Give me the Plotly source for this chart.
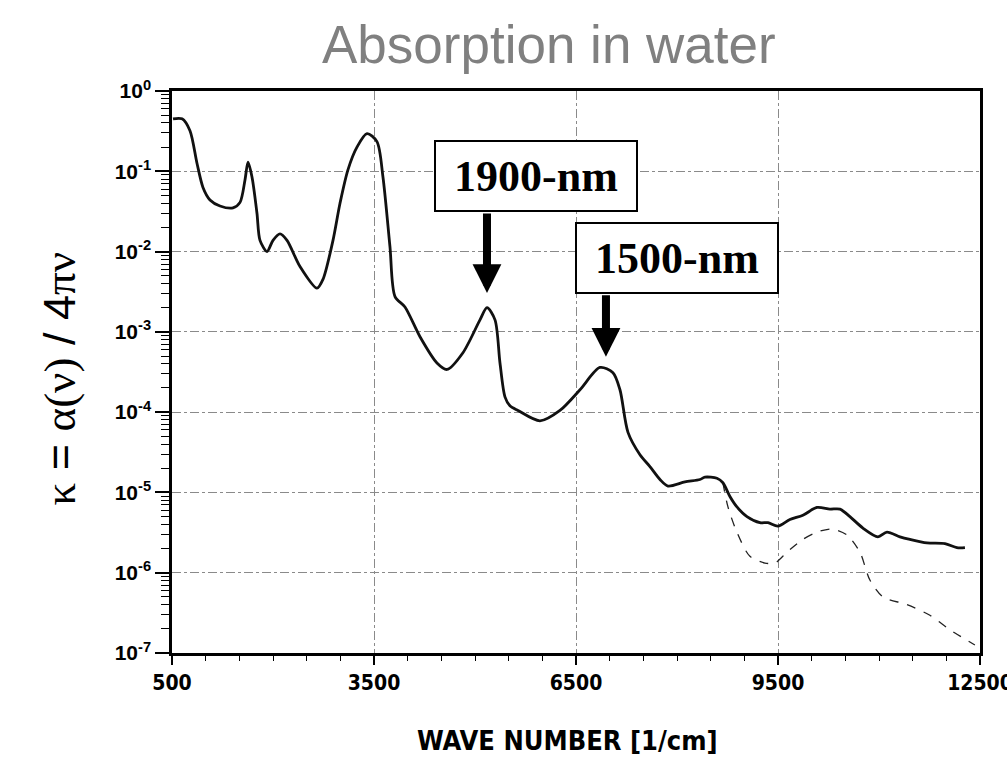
import math
import plotly.graph_objects as go

# ---- data ----
wavenumber = [515, 649, 767, 871, 960, 1064, 1213, 1406, 1510, 1584, 1629, 1688, 1762, 1807,
              1911, 2000, 2104, 2208, 2401, 2653, 2742, 2891, 2995, 3114, 3247, 3396, 3544,
              3633, 3737, 3812, 3960, 4183, 4435, 4584, 4821, 5074, 5178, 5297, 5371, 5445,
              5519, 5638, 5965, 6262, 6559, 6856, 7049, 7153, 7272, 7450, 7598, 7747, 7866,
              8118, 8341, 8415, 8593, 8682, 8786, 8890, 9039, 9232, 9351, 9499, 9677, 9870,
              10078, 10271, 10420, 10568, 10761, 10984, 11118, 11311, 11459, 11712, 11979,
              12157, 12276]
kappa = [0.45, 0.45, 0.32, 0.126, 0.063, 0.044, 0.037, 0.035, 0.041, 0.078, 0.13, 0.085,
         0.030, 0.0138, 0.010, 0.0138, 0.0166, 0.0138, 0.0065, 0.0035, 0.0045, 0.0138,
         0.040, 0.105, 0.20, 0.295, 0.234, 0.085, 0.0115, 0.00275, 0.00204, 8.7e-4, 4.1e-4,
         3.4e-4, 5.5e-4, 1.41e-3, 2.0e-3, 1.41e-3, 4.1e-4, 1.55e-4, 1.2e-4, 1.05e-4, 7.8e-5,
         1.05e-4, 1.9e-4, 3.6e-4, 3.1e-4, 1.9e-4, 5.6e-5, 2.95e-5, 2.1e-5, 1.45e-5, 1.2e-5,
         1.35e-5, 1.45e-5, 1.55e-5, 1.5e-5, 1.32e-5, 8.9e-6, 6.6e-6, 5.0e-6, 4.2e-6, 4.2e-6,
         3.8e-6, 4.6e-6, 5.2e-6, 6.5e-6, 6.2e-6, 6.2e-6, 5.0e-6, 3.6e-6, 2.8e-6, 3.2e-6,
         2.8e-6, 2.6e-6, 2.35e-6, 2.3e-6, 2.05e-6, 2.05e-6]

wavenumber_dashed = [8682, 8757, 8890, 9083, 9306, 9455, 9633, 9870, 10078, 10301, 10524,
                     10717, 10865, 11058, 11415, 11756, 12053, 12424]
kappa_dashed = [1.32e-5, 6.6e-6, 3.2e-6, 1.6e-6, 1.32e-6, 1.32e-6, 1.8e-6, 2.6e-6, 3.2e-6,
                3.5e-6, 2.95e-6, 1.8e-6, 8.1e-7, 5.0e-7, 4.0e-7, 2.95e-7, 1.95e-7, 1.26e-7]

x_tick_values = [500, 3500, 6500, 9500, 12500]
x_tick_labels = ["500", "3500", "6500", "9500", "12500"]
y_tick_values = [1e0, 1e-1, 1e-2, 1e-3, 1e-4, 1e-5, 1e-6, 1e-7]
y_tick_labels = ["10<sup>0</sup>", "10<sup>-1</sup>", "10<sup>-2</sup>", "10<sup>-3</sup>",
                 "10<sup>-4</sup>", "10<sup>-5</sup>", "10<sup>-6</sup>", "10<sup>-7</sup>"]

peak_labels = ["1900-nm", "1500-nm"]
peak_wavenumber = [5178, 6945]
peak_arrow_tip = [3.05e-3, 4.9e-4]
label_center_x = [5905, 8000]
label_center_y = [0.0875, 0.0082]

title_text = "Absorption in water"
x_title = "WAVE NUMBER [1/cm]"
y_title = ("<span style='font-family:Liberation Serif'>κ</span> = "
           "<span style='font-family:Liberation Serif'>α(ν)</span> / 4"
           "<span style='font-family:Liberation Serif'>πν</span>")

# minor tick positions (axis decoration only)
y_minor = [m * 10.0 ** e for e in range(-7, 0) for m in range(2, 10)]

fig = go.Figure()
fig.add_trace(go.Scatter(x=wavenumber_dashed, y=kappa_dashed, mode="lines",
                         line=dict(color="#222", width=1.3, dash="dash", shape="spline",
                                   smoothing=0.8),
                         showlegend=False, hoverinfo="skip"))
fig.add_trace(go.Scatter(x=wavenumber, y=kappa, mode="lines",
                         line=dict(color="#111", width=2.8, shape="spline", smoothing=0.8),
                         showlegend=False))

narrow = "Liberation Sans Narrow, Arial Narrow, DejaVu Sans Condensed, Liberation Sans"

fig.update_layout(
    width=1007, height=775,
    margin=dict(l=172, r=27, t=91, b=122, autoexpand=False),
    paper_bgcolor="white", plot_bgcolor="white",
    xaxis=dict(range=[500, 12500], tickvals=x_tick_values, ticktext=x_tick_labels,
               ticklabeloverflow="allow", automargin=False,
               showline=True, linecolor="black", linewidth=2.5, mirror=True,
               ticks="outside", ticklen=9, tickwidth=1.5, tickcolor="black",
               tickfont=dict(family=narrow, size=21, color="black", weight="bold"),
               showgrid=True, gridcolor="#8a8a8a", gridwidth=1, griddash="dashdot",
               minor=dict(dtick=500, tick0=500, ticks="outside", ticklen=5, tickwidth=1.3,
                          tickcolor="black", showgrid=False),
               zeroline=False),
    yaxis=dict(type="log", range=[-7, 0], tickvals=y_tick_values, ticktext=y_tick_labels,
               automargin=False,
               showline=True, linecolor="black", linewidth=2.5, mirror=True,
               ticks="outside", ticklen=14, tickwidth=1.5, tickcolor="black",
               tickfont=dict(family="Liberation Sans", size=21, color="black", weight="bold"),
               showgrid=True, gridcolor="#8a8a8a", gridwidth=1, griddash="dashdot",
               minor=dict(tickvals=y_minor, ticks="outside", ticklen=8, tickwidth=1.3,
                          tickcolor="black", showgrid=False),
               zeroline=False),
)

annotations = [
    dict(text=title_text, xref="paper", yref="paper", x=0.466, y=1.082,
         xanchor="center", yanchor="middle", showarrow=False,
         font=dict(family="Liberation Sans", size=53, color="#808080")),
    dict(text=x_title, xref="paper", yref="paper", x=0.49, y=-0.155,
         xanchor="center", yanchor="middle", showarrow=False,
         font=dict(family=narrow, size=27, color="black", weight="bold")),
    dict(text=y_title, xref="paper", yref="paper", x=-0.139, y=0.488,
         xanchor="center", yanchor="middle", showarrow=False, textangle=-90,
         font=dict(family="Liberation Sans", size=45, color="black")),
]
for lab, cx, cy in zip(peak_labels, label_center_x, label_center_y):
    annotations.append(dict(text="<b>%s</b>" % lab, x=cx, y=math.log10(cy),
                            xref="x", yref="y", showarrow=False, xanchor="center",
                            yanchor="middle",
                            font=dict(family="Liberation Serif", size=44, color="black"),
                            bgcolor="white", bordercolor="black", borderwidth=2,
                            borderpad=1, width=198, height=66))
arrow_len = [81, 63]
for px_, tip, L in zip(peak_wavenumber, peak_arrow_tip, arrow_len):
    annotations.append(dict(text="", x=px_, y=math.log10(tip), xref="x",
                            yref="y", showarrow=True, ax=0, ay=-L, arrowhead=2,
                            arrowwidth=8, arrowsize=0.72, arrowcolor="black"))
fig.update_layout(annotations=annotations)

fig.write_html("out.html")
